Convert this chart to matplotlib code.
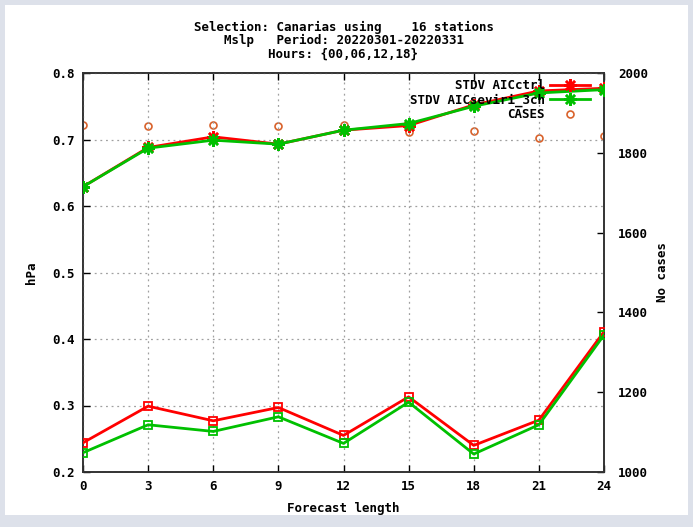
import matplotlib
matplotlib.use('Agg')
import matplotlib.pyplot as plt
from matplotlib.lines import Line2D
from matplotlib.patches import Rectangle

# forecast lengths (h)
steps = [0, 3, 6, 9, 12, 15, 18, 21, 24]

# upper curves (asterisk markers)
stdv_ctrl = [0.629, 0.688, 0.704, 0.693, 0.714, 0.721, 0.752, 0.773, 0.777]
stdv_sev = [0.629, 0.687, 0.699, 0.693, 0.714, 0.724, 0.750, 0.770, 0.775]
# lower curves (square markers)
bias_ctrl = [0.244, 0.299, 0.277, 0.297, 0.255, 0.313, 0.240, 0.278, 0.411]
bias_sev = [0.229, 0.271, 0.261, 0.283, 0.243, 0.305, 0.227, 0.271, 0.406]
# number of cases (right axis)
cases = [1870, 1868, 1870, 1868, 1870, 1853, 1855, 1836, 1841]

title = ("Selection: Canarias using    16 stations\n"
         "Mslp   Period: 20220301-20220331\n"
         "Hours: {00,06,12,18}")

RED = '#ff0000'
GREEN = '#00c000'
ORANGE = '#d9622b'
font = dict(family='DejaVu Sans Mono', weight='bold', size=9)

fig = plt.figure(figsize=(6.93, 5.27), dpi=100)
fig.patch.set_facecolor('#dde1ea')
fig.patches.append(Rectangle((5/693, 12/527), 683/693, 510/527, transform=fig.transFigure,
                             facecolor='white', edgecolor='none', zorder=-5))

ax = fig.add_axes([83/693, 55/527, 521/693, 399/527])
ax2 = ax.twinx()
ax.set_zorder(ax2.get_zorder() + 1)
ax.patch.set_visible(False)
ax2.patch.set_facecolor('white')

ast = (8, 2, 0)
ax.plot(steps, stdv_ctrl, color=RED, lw=2, marker=ast, ms=9, mew=1.8, zorder=3)
ax.plot(steps, stdv_sev, color=GREEN, lw=2, marker=ast, ms=9, mew=1.8, zorder=4)
ax.plot(steps, bias_ctrl, color=RED, lw=2, marker='s', ms=6, mfc='none', mew=1.3, zorder=3)
ax.plot(steps, bias_sev, color=GREEN, lw=2, marker='s', ms=6, mfc='none', mew=1.3, zorder=4)
ax2.plot(steps, cases, ls='none', marker='o', ms=5, mfc='none', mec=ORANGE, mew=1.2)

ax.set_xlim(0, 24)
ax.set_ylim(0.2, 0.8)
ax2.set_ylim(1000, 2000)
ax.set_xticks(steps)
ax.set_yticks([0.2, 0.3, 0.4, 0.5, 0.6, 0.7, 0.8])
ax2.set_yticks([1000, 1200, 1400, 1600, 1800, 2000])
ax.set_yticklabels(['%.1f' % v for v in ax.get_yticks()])

ax.grid(True, color='#a0a0a0', ls=(0, (1.5, 3)), lw=0.9)
ax.tick_params(direction='in', length=5, width=1, top=True, right=False, pad=6)
ax2.tick_params(direction='in', length=5, width=1, pad=10)
for a in (ax, ax2):
    for lab in a.get_xticklabels() + a.get_yticklabels():
        lab.set_fontproperties('DejaVu Sans Mono')
        lab.set_fontweight('bold')
        lab.set_fontsize(9)
    for s in a.spines.values():
        s.set_linewidth(1.2)
        s.set_color('#333333')

ax.set_xlabel('Forecast length', labelpad=6, **font)
ax.set_ylabel('hPa', labelpad=10, **font)
ax2.set_ylabel('No cases', labelpad=6, **font)
ax.set_title(title, pad=11, linespacing=1.05, **font)

handles = [
    Line2D([], [], color=RED, lw=2, marker=ast, ms=9, mew=1.8),
    Line2D([], [], color=GREEN, lw=2, marker=ast, ms=9, mew=1.8),
    Line2D([], [], ls='none', marker='o', ms=5, mfc='none', mec=ORANGE, mew=1.2),
]
leg = ax.legend(handles, ['STDV AICctrl', 'STDV AICseviri_3ch', 'CASES'],
                loc='upper right', bbox_to_anchor=(0.985, 1.0), frameon=False,
                markerfirst=False, handlelength=3.2, handletextpad=0.4,
                labelspacing=0.1, borderaxespad=0.1,
                prop=dict(family='DejaVu Sans Mono', weight='bold', size=9))
for t in leg.get_texts():
    t.set_ha('right')

fig.savefig('out.png', dpi=100, facecolor=fig.get_facecolor())
